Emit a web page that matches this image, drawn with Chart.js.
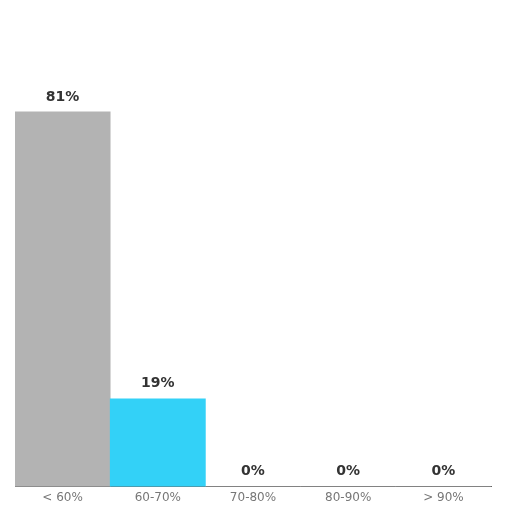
<!DOCTYPE html>
<html>
<head>
<meta charset="utf-8">
<script src="https://cdn.jsdelivr.net/npm/chart.js@4"></script>
<style>
  html, body { margin: 0; padding: 0; background: #fff; }
  #wrap { width: 512px; height: 512px; }
</style>
</head>
<body>
<div id="wrap"><canvas id="chart" width="512" height="512"></canvas></div>
<script>
const categories = ["< 60%", "60-70%", "70-80%", "80-90%", "> 90%"];
const values = [81, 19, 0, 0, 0];
const barColors = ["#b3b3b3", "#33d1f7", "#b3b3b3", "#b3b3b3", "#b3b3b3"];

// draw the percentage above each bar
const valueLabels = {
    id: 'valueLabels',
    afterDatasetsDraw(chart) {
        const ctx = chart.ctx;
        const meta = chart.getDatasetMeta(0);
        ctx.save();
        ctx.font = 'bold 14px "DejaVu Sans"';
        ctx.fillStyle = '#333333';
        ctx.textAlign = 'center';
        ctx.textBaseline = 'bottom';
        meta.data.forEach((bar, i) => {
            ctx.fillText(values[i] + '%', bar.x, bar.y - 8);
        });
        ctx.restore();
    }
};

new Chart(document.getElementById('chart').getContext('2d'), {
    type: 'bar',
    data: {
        labels: categories,
        datasets: [{
            data: values,
            backgroundColor: barColors,
            borderWidth: 0,
            categoryPercentage: 1.0,
            barPercentage: 1.0
        }]
    },
    options: {
        responsive: false,
        animation: false,
        layout: { padding: { left: 15, right: 21, top: 24, bottom: 3 } },
        plugins: {
            legend: { display: false },
            tooltip: { enabled: false }
        },
        scales: {
            x: {
                grid: { display: false, drawTicks: false },
                border: { display: true, color: '#666666', width: 1 },
                ticks: {
                    color: '#777777',
                    font: { family: 'DejaVu Sans', size: 12 },
                    padding: 4
                }
            },
            y: {
                display: false,
                min: 0,
                max: 100
            }
        }
    },
    plugins: [valueLabels]
});
</script>
</body>
</html>
